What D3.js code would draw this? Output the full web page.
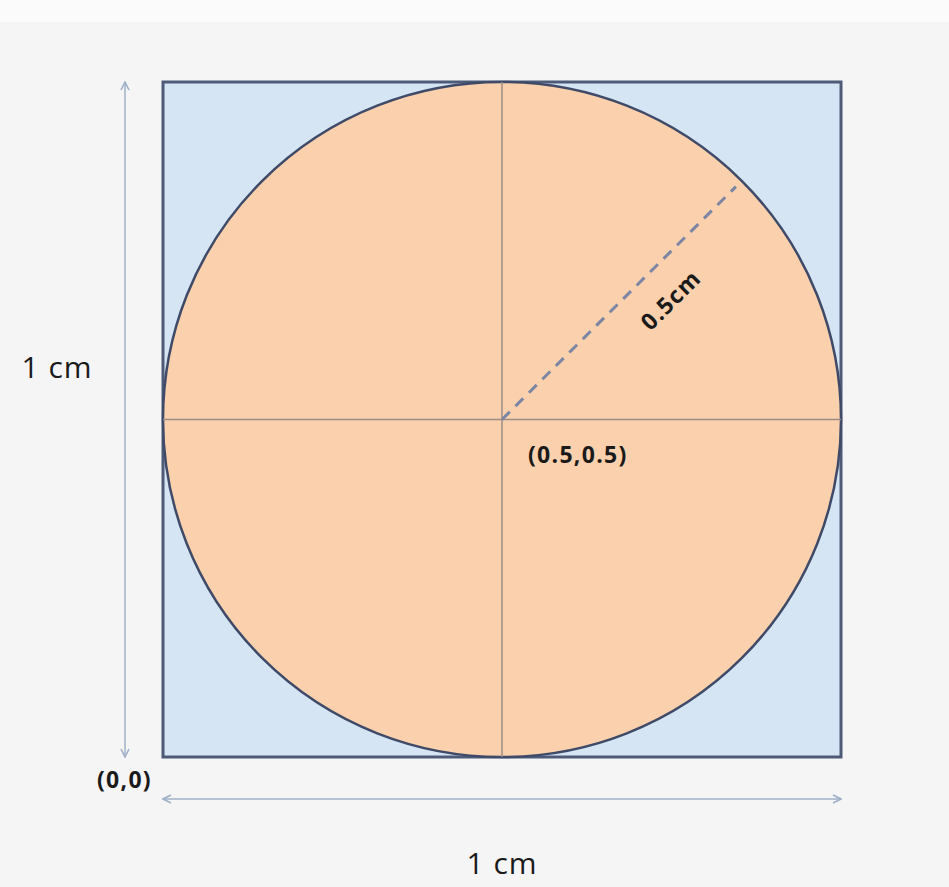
<!DOCTYPE html>
<html>
<head>
<meta charset="utf-8">
<script src="https://cdn.jsdelivr.net/npm/d3@7"></script>
<style>
  body { margin: 0; background: #f5f5f5; }
  svg { display: block; }
  text { font-family: "Open Sans", "Liberation Sans", sans-serif; fill: #1a1a1a; }
</style>
</head>
<body>
<svg id="chart" width="949" height="887"></svg>
<script>
// unit square, circle inscribed in it
const square = [{x0: 0, y0: 0, x1: 1, y1: 1}]
const circle = [{cx: 0.5, cy: 0.5, r: 0.5}]
const crossLines = [
    {x0: 0.5, y0: 0, x1: 0.5, y1: 1},
    {x0: 0, y0: 0.5, x1: 1, y1: 0.5}
]
const radiusLine = [{x0: 0.5, y0: 0.5, x1: 0.845, y1: 0.845}]
const pointLabels = [
    {x: 0.5, y: 0.5, text: "(0.5,0.5)"},
    {x: 0, y: 0, text: "(0,0)"}
]
const sideLabels = ["1 cm", "1 cm"]
const radiusLabel = "0.5cm"

const svg = d3.select("#chart")

const x = d3.scaleLinear().domain([0, 1]).range([163, 841])
const y = d3.scaleLinear().domain([0, 1]).range([757, 82])

// light white band at the top
svg.append("rect").attr("x", 0).attr("y", 0).attr("width", 949).attr("height", 887).attr("fill", "#f5f5f5")
svg.append("rect").attr("x", 0).attr("y", 0).attr("width", 949).attr("height", 22).attr("fill", "#fbfbfb")

const defs = svg.append("defs")
defs.append("marker")
    .attr("id", "arr")
    .attr("viewBox", "0 0 10 10")
    .attr("refX", 9).attr("refY", 5)
    .attr("markerWidth", 10).attr("markerHeight", 10)
    .attr("markerUnits", "userSpaceOnUse")
    .attr("orient", "auto-start-reverse")
    .append("path")
    .attr("d", "M1,1 L9,5 L1,9")
    .attr("fill", "none")
    .attr("stroke", "#9fb0c8")
    .attr("stroke-width", 1.6)

svg.selectAll(".sq").data(square).join("rect")
    .attr("class", "sq")
    .attr("x", d => x(d.x0))
    .attr("y", d => y(d.y1))
    .attr("width", d => x(d.x1) - x(d.x0))
    .attr("height", d => y(d.y0) - y(d.y1))
    .attr("fill", "#d5e5f3")
    .attr("stroke", "#4d5b78")
    .attr("stroke-width", 3)

svg.selectAll(".circ").data(circle).join("ellipse")
    .attr("class", "circ")
    .attr("cx", d => x(d.cx))
    .attr("cy", d => y(d.cy))
    .attr("rx", d => x(d.r) - x(0))
    .attr("ry", d => y(0) - y(d.r))
    .attr("fill", "#fbd0ac")
    .attr("stroke", "#3e4a68")
    .attr("stroke-width", 2.5)

svg.selectAll(".cross").data(crossLines).join("line")
    .attr("class", "cross")
    .attr("x1", d => x(d.x0)).attr("y1", d => y(d.y0))
    .attr("x2", d => x(d.x1)).attr("y2", d => y(d.y1))
    .attr("stroke", "#9a8d86")
    .attr("stroke-width", 1.5)

svg.selectAll(".rad").data(radiusLine).join("line")
    .attr("class", "rad")
    .attr("x1", d => x(d.x0)).attr("y1", d => y(d.y0))
    .attr("x2", d => x(d.x1)).attr("y2", d => y(d.y1))
    .attr("stroke", "#7c86a4")
    .attr("stroke-width", 3)
    .attr("stroke-dasharray", "11,8")

// dimension arrows
svg.append("line")
    .attr("x1", 125).attr("y1", y(0))
    .attr("x2", 125).attr("y2", y(1))
    .attr("stroke", "#9fb0c8").attr("stroke-width", 1.5)
    .attr("marker-start", "url(#arr)")
    .attr("marker-end", "url(#arr)")

svg.append("line")
    .attr("x1", x(0)).attr("y1", 799)
    .attr("x2", x(1)).attr("y2", 799)
    .attr("stroke", "#9fb0c8").attr("stroke-width", 1.5)
    .attr("marker-start", "url(#arr)")
    .attr("marker-end", "url(#arr)")

svg.append("text")
    .attr("x", 57).attr("y", 378)
    .attr("text-anchor", "middle")
    .attr("font-size", 30)
    .attr("letter-spacing", 1)
    .text(sideLabels[0])

svg.append("text")
    .attr("x", x(0.5)).attr("y", 874)
    .attr("text-anchor", "middle")
    .attr("font-size", 30)
    .attr("letter-spacing", 1)
    .text(sideLabels[1])

svg.selectAll(".pl").data(pointLabels).join("text")
    .attr("class", "pl")
    .attr("x", (d, i) => i === 0 ? x(d.x) + 26 : x(d.x) - 66)
    .attr("y", (d, i) => i === 0 ? y(d.y) + 43 : y(d.y) + 31)
    .attr("font-size", 23)
    .attr("font-weight", "bold")
    .attr("letter-spacing", 1.3)
    .text(d => d.text)

// label sits along the radius, offset below it
const cx0 = x(0.5), cy0 = y(0.5)
const along = 204, perp = 43
const lx = cx0 + (along + perp) / Math.SQRT2
const ly = cy0 + (-along + perp) / Math.SQRT2
svg.append("text")
    .attr("transform", `translate(${lx},${ly}) rotate(-45)`)
    .attr("text-anchor", "middle")
    .attr("font-size", 23)
    .attr("font-weight", "bold")
    .attr("letter-spacing", 1.3)
    .text(radiusLabel)
</script>
</body>
</html>
